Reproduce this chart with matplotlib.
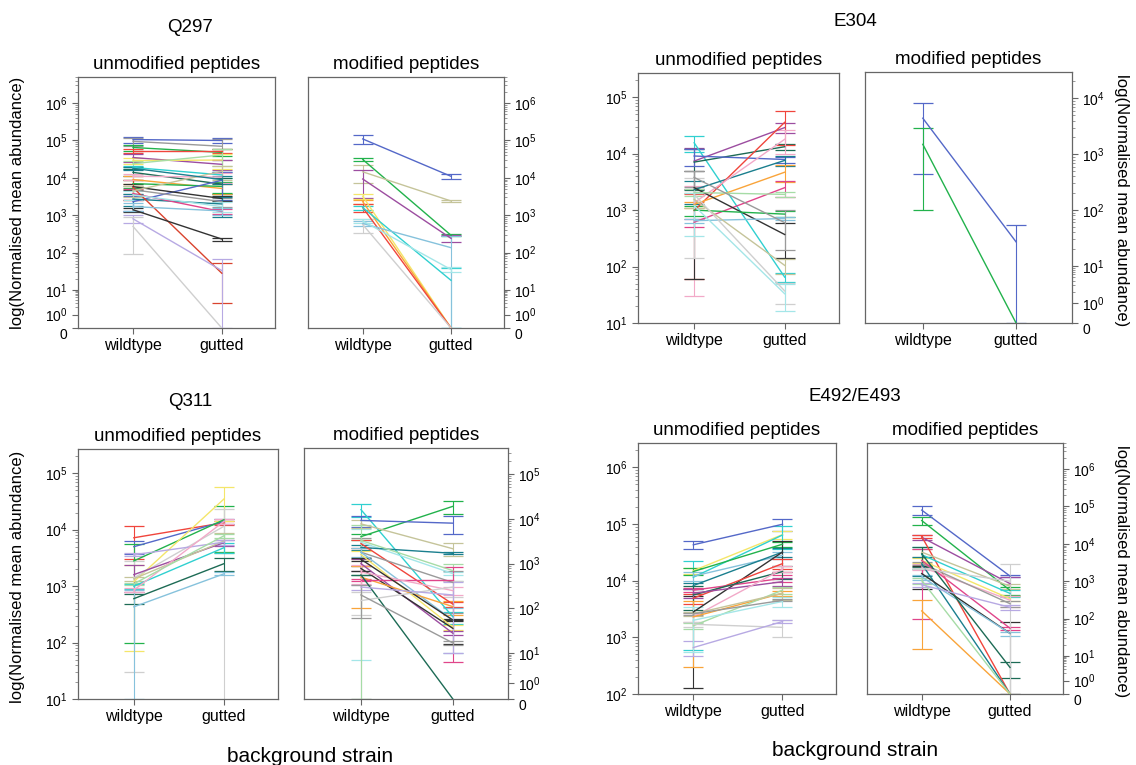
import numpy as np
import matplotlib
matplotlib.use("Agg")
import matplotlib.pyplot as plt
from matplotlib.ticker import FixedLocator

plt.rcParams['font.family'] = ['Liberation Sans', 'DejaVu Sans']
plt.rcParams['mathtext.fontset'] = 'custom'
plt.rcParams['mathtext.rm'] = 'Liberation Sans'
plt.rcParams['mathtext.it'] = 'Liberation Sans:italic'
plt.rcParams['mathtext.bf'] = 'Liberation Sans:bold'

# ---- colours ----
BLUE = '#5468c8'; GREEN = '#22b24c'; RED = '#f0453c'; PURPLE = '#9c4da0'
CYAN = '#30d0d0'; YELLOW = '#f4e66a'; ORANGE = '#f9a43a'; MAGENTA = '#e0458a'
BLACK = '#333333'; GRAY = '#9a9a9a'; LGRAY = '#cfcfcf'; TEAL = '#1a7f8e'
DGREEN = '#1d6b55'; LBLUE = '#86c2dc'; KHAKI = '#c5c49a'; LAV = '#b7a9e3'
LGREEN = '#a6dca6'; PINK = '#f2a9c8'; LCYAN = '#a4e6e8'; DRED = '#d9432e'

categories = ['wildtype', 'gutted']

# ---- Q297 unmodified ----
q297_un_wt = [1.06e5, 9.5e4, 6.5e4, 5.3e4, 3.5e4, 2.9e4, 2.4e4, 1.9e4, 1.4e4, 9e3, 7e3, 2.3e3, 5.8e3,
              4.8e3, 2.7e3, 3.8e3, 5.5e3, 1.4e3, 800, 500, 1.7e3, 3.5e3, 1.1e4, 4.5e3, 1.8e4]
q297_un_wt_sd = [2e4, 2.5e4, 1.2e4, 8e3, 8e3, 6e3, 5e3, 2e3, 3e3, 2e3, 1.5e3, 1e3, 1e3,
                 1.2e3, 9e2, 1.3e3, 3e3, 2e2, 200, 410, 4e2, 1e3, 2e3, 1.5e3, 1.5e3]
q297_un_gt = [1.0e5, 7e4, 4.8e4, 5.3e4, 2.3e4, 3e4, 4.1e4, 1.2e4, 6.8e3, 5.2e3, 5.9e3, 8.6e3, 2.8e3,
              2.3e3, 2e3, 1.25e3, 28, 230, 33, 0, 1.3e3, 1.7e3, 1.05e4, 1.5e4, 9e3]
q297_un_gt_sd = [1.5e4, 4e4, 1e4, 8e3, 7e3, 1.3e4, 2e4, 2e3, 3e3, 1.5e3, 2e3, 6e3, 4e2,
                 6e2, 1.1e3, 2e2, 25, 20, 33, 0, 3e2, 5e2, 3e3, 6e3, 2e3]
q297_un_col = [BLUE, GRAY, GREEN, RED, PURPLE, YELLOW, LGREEN, CYAN, DGREEN, ORANGE, GREEN, BLUE, BLACK,
               GRAY, TEAL, MAGENTA, DRED, BLACK, LAV, LGRAY, LBLUE, LCYAN, PINK, KHAKI, TEAL]

# ---- Q297 modified ----
q297_mo_wt = [1.1e5, 3.1e4, 1.45e4, 9.3e3, 3.2e3, 2.3e3, 1.6e3, 1.6e3, 600, 560, 700]
q297_mo_wt_sd = [3e4, 3e3, 7e3, 6.5e3, 5e2, 3e2, 4e2, 2e2, 100, 220, 80]
q297_mo_gt = [1.1e4, 290, 2.4e3, 240, 0, 0, 0, 18, 135, 0, 35]
q297_mo_gt_sd = [1.5e3, 20, 2e2, 50, 0, 0, 0, 20, 140, 0, 5]
q297_mo_col = [BLUE, GREEN, KHAKI, PURPLE, YELLOW, ORANGE, RED, CYAN, LBLUE, LGRAY, LCYAN]

# ---- E304 unmodified ----
e304_un_wt = [1.56e4, 7.4e3, 7.1e3, 9.1e3, 2.3e3, 980, 1.35e3, 1.26e3, 610, 2.5e3, 2.05e3, 1e3,
              650, 1.55e3, 1.9e3, 1.2e3, 3.8e3]
e304_un_wt_sd = [5e3, 5e3, 4.8e3, 3e3, 1e3, 920, 1.32e3, 150, 100, 2.44e3, 300, 200,
                 50, 450, 1.76e3, 850, 1.2e3]
e304_un_gt = [65, 2.9e4, 1.33e4, 7.9e3, 7.6e3, 3.6e4, 1.8e4, 4.7e3, 2.5e3, 370, 1.9e3, 850,
              710, 105, 37, 33, 600]
e304_un_gt_sd = [12, 6e3, 1.5e3, 1e3, 1.5e3, 2.2e4, 8e3, 1.5e3, 800, 230, 200, 100,
                 50, 30, 15, 17, 400]
e304_un_col = [CYAN, PURPLE, DGREEN, BLUE, TEAL, RED, PINK, ORANGE, MAGENTA, BLACK, LGREEN, GREEN,
               LBLUE, KHAKI, LGRAY, LCYAN, GRAY]

# ---- E304 modified ----
e304_mo_wt = [4.4e3, 1.5e3]
e304_mo_wt_sd = [3.95e3, 1.4e3]
e304_mo_gt = [27, 0]
e304_mo_gt_sd = [27, 0]
e304_mo_col = [BLUE, GREEN]

# ---- Q311 unmodified ----
q311_un_wt = [7.2e3, 5e3, 2.8e3, 1.2e3, 1.4e3, 1.6e3, 1.35e3, 1e3, 600, 430, 3.6e3, 850, 1.1e3]
q311_un_wt_sd = [4.2e3, 1.3e3, 2.7e3, 1.13e3, 1.37e3, 800, 1e2, 1e2, 120, 420, 200, 60, 50]
q311_un_gt = [1.33e4, 1.4e4, 1.5e4, 3.5e4, 1.15e4, 5.9e3, 6.3e3, 4.8e3, 2.5e3, 1.65e3, 6e3, 1.4e4, 7.8e3]
q311_un_gt_sd = [1.2e3, 1.5e3, 1.1e4, 2.1e4, 1.2e4, 800, 2.5e3, 1e3, 650, 100, 600, 1.5e3, 600]
q311_un_col = [RED, BLUE, GREEN, YELLOW, LGRAY, PURPLE, KHAKI, CYAN, DGREEN, LBLUE, LAV, PINK, LGREEN]

# ---- Q311 modified ----
q311_mo_wt = [1.6e4, 3e3, 4e3, 9.2e3, 7.7e3, 2.3e3, 2.8e3, 1.8e3, 3.3e3, 1.6e3, 1.8e3, 1e3, 780,
              500, 430, 560, 650, 1.25e3, 150, 300, 200]
q311_mo_wt_sd = [5e3, 2.994e3, 600, 2.5e3, 1.5e3, 300, 600, 1.85e3, 4e3, 300, 400, 300, 100,
                 400, 20, 10, 300, 1e2, 80, 40, 140]
q311_mo_gt = [65, 600, 1.9e4, 8e3, 2.15e3, 1.7e3, 125, 380, 700, 38, 55, 28, 36,
              110, 430, 0, 250, 55, 300, 200, 17]
q311_mo_gt_sd = [20, 50, 6e3, 3.5e3, 700, 100, 15, 300, 300, 5, 45, 3, 20,
                 40, 425, 0, 50, 3, 120, 190, 2]
q311_mo_col = [CYAN, LCYAN, GREEN, BLUE, KHAKI, TEAL, RED, GRAY, LGREEN, YELLOW, LBLUE, PURPLE, BLACK,
               ORANGE, MAGENTA, DGREEN, PINK, BLACK, LGRAY, LAV, GRAY]

# ---- E492/E493 unmodified ----
e492_un_wt = [4.3e4, 1.5e4, 1.15e4, 1.45e4, 1.2e4, 8.2e3, 2.8e3, 4.9e3, 6.8e3, 5.6e3, 6e3, 2.3e3,
              2.3e3, 1.6e3, 1.7e3, 660, 2e3, 2.6e3, 2.6e3]
e492_un_wt_sd = [7e3, 2e3, 1.09e4, 2e3, 2e3, 1e3, 2.67e3, 1e3, 600, 2.5e3, 1e3, 400,
                 2e3, 200, 200, 200, 1.45e3, 200, 100]
e492_un_gt = [9.9e4, 6.5e4, 6.4e4, 4.4e4, 2.8e4, 3.2e4, 3.2e4, 2e4, 1.1e4, 1.45e4, 9.6e3, 1.6e4,
              6e3, 6.8e3, 1.5e3, 1.9e3, 4.3e3, 6e3, 4.5e3]
e492_un_gt_sd = [2.3e4, 1e4, 2.8e4, 5e3, 4e3, 6e3, 1.8e4, 4e3, 1.5e3, 4e3, 1.5e3, 2e3,
                 600, 1e3, 500, 100, 800, 1.5e3, 200]
e492_un_col = [BLUE, YELLOW, CYAN, GREEN, LBLUE, TEAL, BLACK, RED, MAGENTA, DGREEN, PURPLE, PINK,
               ORANGE, LGREEN, LGRAY, LAV, LCYAN, KHAKI, GRAY]

# ---- E492/E493 modified ----
e492_mo_wt = [8e4, 4.2e4, 1.5e4, 1.57e4, 5.1e3, 6e3, 3.6e3, 2.4e3, 3e3, 2.9e3, 1.6e3, 3.6e3,
              1.3e3, 5.4e3, 160, 1.05e3, 2.2e3, 800]
e492_mo_wt_sd = [2e4, 1e4, 2e3, 1.5e3, 3e3, 1.5e3, 600, 400, 300, 1.5e3, 1e3, 3.5e3,
                 200, 3e3, 145, 200, 100, 100]
e492_mo_gt = [1.37e3, 570, 860, 0, 470, 730, 340, 310, 250, 0, 40, 55,
              40, 3.4, 0, 0, 1e3, 200]
e492_mo_gt_sd = [80, 150, 450, 0, 100, 100, 50, 100, 50, 0, 40, 5,
                 5, 2.1, 0, 0, 1.8e3, 30]
e492_mo_col = [BLUE, GREEN, PURPLE, RED, CYAN, KHAKI, YELLOW, PINK, GRAY, TEAL, BLACK, MAGENTA,
               LBLUE, DGREEN, ORANGE, LGREEN, LGRAY, LAV]

# axis with "0" at the bottom, squeezed first decade
Z0 = 0.36  # decades used for 0..1
Z1 = 0.66  # decades used for 1..10


def fwd(y):
    y = np.asarray(y, dtype=float)
    yc = np.clip(y, 1e-12, None)
    return np.where(y >= 10, np.log10(yc) + (Z0 + Z1 - 1),
                    np.where(y >= 1, Z0 + Z1 * np.log10(yc), Z0 * y))


def inv(f):
    f = np.asarray(f, dtype=float)
    fc = np.clip(f, -50, 50)
    return np.where(f >= Z0 + Z1, 10.0 ** (fc - (Z0 + Z1 - 1)),
                    np.where(f >= Z0, 10.0 ** ((fc - Z0) / Z1), f / Z0))


W, H = 1136, 765


def box(l, t, r, b):
    return [l / W, 1 - b / H, (r - l) / W, (b - t) / H]


def draw(ax, wt, wt_sd, gt, gt_sd, colors, zero_axis, ytop, ybot, right, subtitle):
    if zero_axis:
        ax.set_yscale('function', functions=(fwd, inv))
    else:
        ax.set_yscale('log')
    for i in range(len(wt)):
        c = colors[i]
        ax.plot([0, 1], [wt[i], gt[i]], color=c, lw=1.0, zorder=3)
        for x, m, s in ((0, wt[i], wt_sd[i]), (1, gt[i], gt_sd[i])):
            if m == 0:
                continue
            lo = min(s, m)
            ax.errorbar([x], [m], yerr=[[lo], [s]], fmt='none', ecolor=c,
                        elinewidth=0.8, capsize=7, capthick=0.9, zorder=2)
    ax.set_xlim(-0.62, 1.6)
    ax.set_ylim(ybot, ytop)
    top_dec = int(np.floor(np.log10(ytop)))
    if zero_axis:
        majors = [0] + [10 ** k for k in range(0, top_dec + 1)]
        labels = ['0'] + [r'$\mathregular{10^{%d}}$' % k for k in range(0, top_dec + 1)]
        minors = [m * 10 ** k for k in range(0, top_dec + 1) for m in range(2, 10)]
    else:
        bot_dec = int(np.round(np.log10(ybot)))
        majors = [10 ** k for k in range(bot_dec, top_dec + 1)]
        labels = [r'$\mathregular{10^{%d}}$' % k for k in range(bot_dec, top_dec + 1)]
        minors = [m * 10 ** k for k in range(bot_dec, top_dec + 1) for m in range(2, 10)]
    ax.set_yticks(majors)
    ax.set_yticklabels(labels)
    ax.yaxis.set_minor_locator(FixedLocator([v for v in minors if v < ytop]))
    ax.set_xticks([0, 1])
    ax.set_xticklabels(categories)
    ax.tick_params(axis='x', length=4, color='#666666', labelsize=11.5, pad=3)
    ax.tick_params(axis='y', which='major', length=4, color='#666666', labelsize=10)
    ax.tick_params(axis='y', which='minor', length=2, color='#888888')
    if right:
        ax.yaxis.tick_right()
    if zero_axis:
        # the "0" label sits just under the bottom edge, clear of 10^0
        t0 = ax.yaxis.get_major_ticks()[0]
        t0.label1.set_va('top')
        t0.label2.set_va('top')
    for sp in ax.spines.values():
        sp.set_color('#666666')
        sp.set_linewidth(0.9)
    ax.set_title(subtitle, fontsize=13.5, pad=6)


fig = plt.figure(figsize=(11.36, 7.65), dpi=100)

ax = fig.add_axes(box(78, 77, 275, 328))
draw(ax, q297_un_wt, q297_un_wt_sd, q297_un_gt, q297_un_gt_sd, q297_un_col, True, 10 ** 6.70, 0, False,
     'unmodified peptides')
ax = fig.add_axes(box(308, 77, 504, 328))
draw(ax, q297_mo_wt, q297_mo_wt_sd, q297_mo_gt, q297_mo_gt_sd, q297_mo_col, True, 10 ** 6.70, 0, True,
     'modified peptides')
ax = fig.add_axes(box(638, 73, 839, 323))
draw(ax, e304_un_wt, e304_un_wt_sd, e304_un_gt, e304_un_gt_sd, e304_un_col, False, 10 ** 5.43, 10, False,
     'unmodified peptides')
ax = fig.add_axes(box(865, 72, 1072, 323))
draw(ax, e304_mo_wt, e304_mo_wt_sd, e304_mo_gt, e304_mo_gt_sd, e304_mo_col, True, 10 ** 4.47, 0, True,
     'modified peptides')
ax = fig.add_axes(box(78, 449, 278, 699))
draw(ax, q311_un_wt, q311_un_wt_sd, q311_un_gt, q311_un_gt_sd, q311_un_col, False, 10 ** 5.43, 10, False,
     'unmodified peptides')
ax = fig.add_axes(box(304, 448, 508, 699))
draw(ax, q311_mo_wt, q311_mo_wt_sd, q311_mo_gt, q311_mo_gt_sd, q311_mo_col, True, 10 ** 5.58, 0, True,
     'modified peptides')
ax = fig.add_axes(box(638, 443, 836, 694))
draw(ax, e492_un_wt, e492_un_wt_sd, e492_un_gt, e492_un_gt_sd, e492_un_col, False, 10 ** 6.43, 100, False,
     'unmodified peptides')
ax = fig.add_axes(box(867, 443, 1063, 694))
draw(ax, e492_mo_wt, e492_mo_wt_sd, e492_mo_gt, e492_mo_gt_sd, e492_mo_col, True, 10 ** 6.70, 0, True,
     'modified peptides')

# group titles
fig.text(190 / W, 1 - 27 / H, 'Q297', fontsize=13.5, ha='center', va='center')
fig.text(855 / W, 1 - 22 / H, 'E304', fontsize=13.5, ha='center', va='center')
fig.text(190 / W, 1 - 402 / H, 'Q311', fontsize=13.5, ha='center', va='center')
fig.text(855 / W, 1 - 396 / H, 'E492/E493', fontsize=13.5, ha='center', va='center')

ylab = 'log(Normalised mean abundance)'
fig.text(18 / W, 1 - 203 / H, ylab, fontsize=12, rotation=90, ha='center', va='center')
fig.text(18 / W, 1 - 577 / H, ylab, fontsize=12, rotation=90, ha='center', va='center')
fig.text(1122 / W, 1 - 200 / H, ylab, fontsize=12, rotation=270, ha='center', va='center')
fig.text(1122 / W, 1 - 571 / H, ylab, fontsize=12, rotation=270, ha='center', va='center')

fig.text(310 / W, 1 - 756 / H, 'background strain', fontsize=15, ha='center', va='center')
fig.text(855 / W, 1 - 750 / H, 'background strain', fontsize=15, ha='center', va='center')

fig.savefig('out.png', dpi=100)
